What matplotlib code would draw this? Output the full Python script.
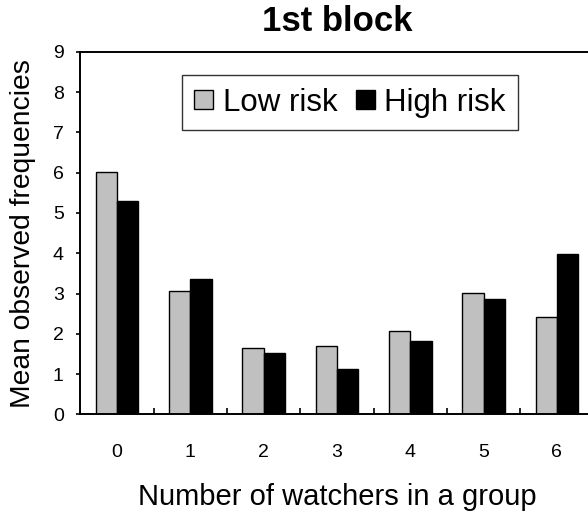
import matplotlib
matplotlib.use("Agg")
import matplotlib.pyplot as plt
import numpy as np

plt.rcParams['font.family'] = ['Liberation Sans', 'DejaVu Sans']

watchers = ["0", "1", "2", "3", "4", "5", "6"]
low_risk = [6.02, 3.06, 1.66, 1.71, 2.07, 3.01, 2.41]
high_risk = [5.30, 3.36, 1.52, 1.13, 1.83, 2.86, 3.97]

w = 0.29
x = np.arange(len(watchers))

fig = plt.figure(figsize=(5.88, 5.14), dpi=100)
ax = fig.add_axes([0.1369, 0.1936, 0.8724, 0.7058])

ax.bar(x - w/2, low_risk, w, color='#C0C0C0', edgecolor='black', linewidth=1.0, label="Low risk")
ax.bar(x + w/2, high_risk, w, color='black', edgecolor='black', linewidth=1.0, label="High risk")

ax.set_xlim(-0.5, 6.5)
ax.set_ylim(0, 9)
ax.set_yticks(range(10))
ax.set_xticks(x)
ax.set_xticklabels(watchers)
ax.set_xticks(x + 0.5, minor=True)
ax.tick_params(axis='x', which='major', length=0, pad=21, labelsize=14)
ax.tick_params(axis='x', which='minor', direction='in', length=4, width=1.2)
ax.tick_params(axis='y', direction='out', length=3, width=1.2, pad=9, labelsize=14)

for s in ['left', 'bottom', 'top', 'right']:
	ax.spines[s].set_linewidth(1.4)

ax.set_xlabel("Number of watchers in a group", fontsize=21, labelpad=16)
ax.set_ylabel("Mean observed frequencies", fontsize=20.3, labelpad=12)
ax.set_title("1st block", fontsize=25, fontweight='bold', pad=15)

leg = ax.legend(loc='upper left', bbox_to_anchor=(0.3095, 0.854), bbox_transform=fig.transFigure,
	ncol=2, fontsize=22.5, frameon=True, fancybox=False, edgecolor='black',
	handlelength=0.6, handleheight=0.6, handletextpad=0.3, columnspacing=0.6,
	borderpad=0.4, borderaxespad=0)
leg.get_frame().set_linewidth(1.0)

fig.savefig("out.png", dpi=100)
